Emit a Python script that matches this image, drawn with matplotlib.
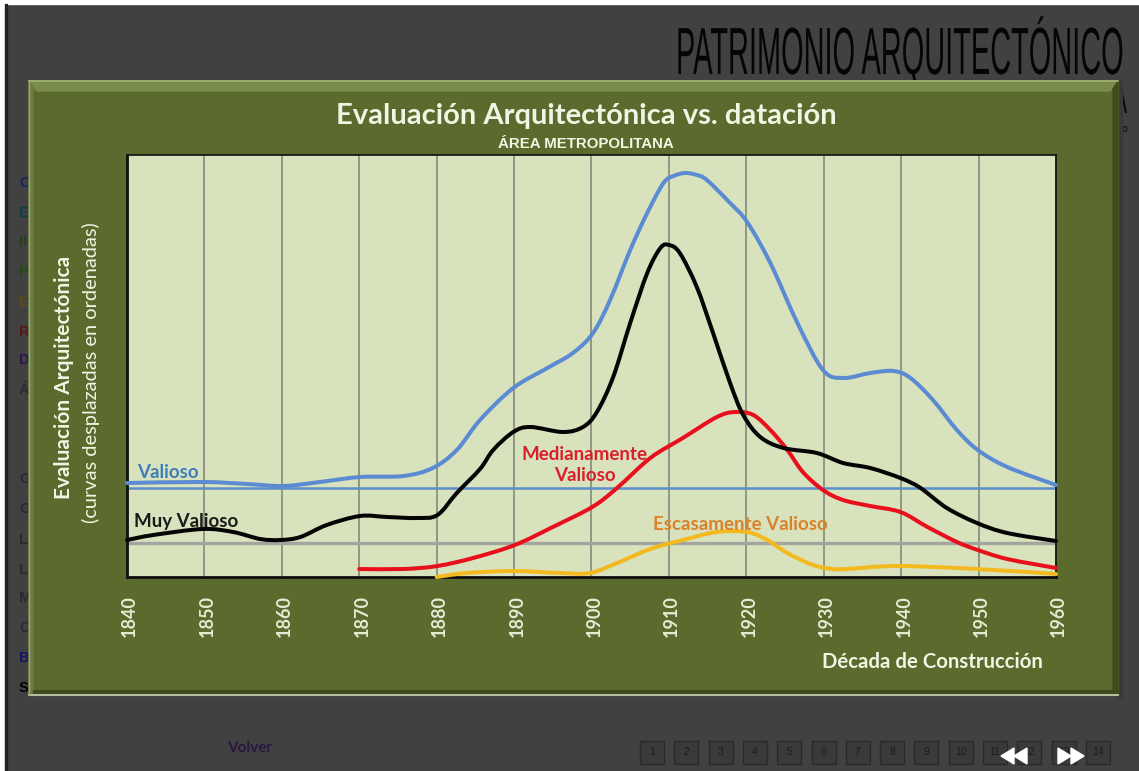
from __future__ import annotations

import matplotlib

matplotlib.use("Agg")
import matplotlib.pyplot as plt
from matplotlib.patches import PathPatch, Polygon, Rectangle
from matplotlib.path import Path
from matplotlib.patheffects import AbstractPathEffect
from matplotlib.transforms import Affine2D, ScaledTranslation


WIDTH = 1139
HEIGHT = 771

DECADES = [1840, 1850, 1860, 1870, 1880, 1890, 1900, 1910, 1920, 1930, 1940, 1950, 1960]

VALIOSO_X = [1840, 1849.8, 1855.5, 1860.2, 1864.9, 1870.1, 1875.7, 1879.5, 1882.6, 1885.6, 1889.9, 1894.3,
             1897.6, 1900.2, 1902.4, 1905, 1907.2, 1909.3, 1910.6, 1912.1, 1913.6, 1914.9, 1917.9, 1920.1,
             1923.1, 1926.6, 1929.9, 1932.5, 1936, 1939, 1941.2, 1944.1, 1947.2, 1949.9, 1953.7, 1960]
VALIOSO_Y = [94, 95, 93, 91, 95, 100, 101, 109, 127, 157, 189, 209,
             224, 244, 277, 327, 364, 394, 401, 404, 402, 397, 374, 355,
             314, 254, 207, 199, 204, 206, 199, 177, 147, 127, 110, 92]

MUY_VALIOSO_X = [1840, 1843.4, 1849.8, 1853.7, 1857.2, 1859.8, 1862.4, 1865.8, 1870.1, 1873.6,
                 1877.5, 1880.1, 1882.6, 1885.6, 1887.3, 1889.9, 1892.1, 1896.3, 1898.9, 1900.7,
                 1902.8, 1905, 1907.2, 1908.9, 1910, 1911.4, 1913.6, 1915.7, 1917.9, 1919.6,
                 1921.8, 1924.8, 1929.1, 1932.5, 1936, 1939.9, 1942.5, 1945.9, 1949.8, 1953.7, 1960]
MUY_VALIOSO_Y = [37, 42, 48, 45, 38, 37, 40, 52, 61, 60,
                 59, 62, 84, 108, 127, 145, 150, 145, 150, 165,
                 200, 254, 304, 329, 332, 324, 290, 244, 194, 162,
                 140, 129, 124, 114, 109, 99, 89, 69, 54, 44, 36]

MEDIANAMENTE_X = [1870, 1875.7, 1880.1, 1884.7, 1890.1, 1895, 1900.1, 1903.3, 1907.6, 1911.8, 1916.2,
                  1918.6, 1920.9, 1923.1, 1925.3, 1927.3, 1929.9, 1932.5, 1936, 1939.9, 1943.4,
                  1947.2, 1949.9, 1953.7, 1960]
MEDIANAMENTE_Y = [8, 8, 11, 19, 32, 50, 70, 89, 119, 139, 160,
                  165, 162, 147, 127, 105, 87, 77, 71, 65, 50,
                  35, 27, 18, 9]

ESCASAMENTE_X = [1880, 1883.9, 1889.9, 1895.9, 1899.8, 1903.3, 1907.6, 1911.8, 1916.2, 1920.1,
                 1922.7, 1925.3, 1928.6, 1931.2, 1933, 1939.5, 1949.8, 1960]
ESCASAMENTE_Y = [0, 4, 6, 4, 4, 14, 28, 37, 45, 45, 37, 24, 12, 8, 8, 11, 8, 3]

VALIOSO_BASE = 89
MUY_VALIOSO_BASE = 34

SIDE_LETTERS = ["C", "E", "II", "P", "E", "R", "D", "Á", "G", "G", "L", "L", "M", "C", "B", "S"]
SIDE_Y = [183, 213, 242, 272, 302, 332, 360, 390, 479, 509, 540, 570, 598, 628, 658, 688]
SIDE_COLORS = ["#14285c", "#123f4a", "#26401c", "#254a12", "#5c4a1c", "#5c1414", "#2c1450", "#2b2b2b",
               "#2b2b2b", "#2b2b2b", "#2b2b2b", "#2b2b2b", "#2b2b2b", "#2b2b2b", "#14146a", "#000000"]
PAGE_BUTTONS = [str(i) for i in range(1, 15)]

FONT = "Lato"
WHITE = "#f2f5e4"


class Stretch(AbstractPathEffect):
    # no condensed face is installed, so the heading glyphs get squeezed when drawn
    def __init__(self, sx: float, sy: float, x0: float, y0: float) -> None:
        super().__init__()
        self._transform = Affine2D().translate(-x0, -y0).scale(sx, sy).translate(x0, y0)

    def draw_path(self, renderer, gc, tpath, affine, rgbFace=None):
        renderer.draw_path(gc, tpath, affine + self._transform, rgbFace)


def main() -> None:
    fig = plt.figure(figsize=(WIDTH / 100, HEIGHT / 100), dpi=100, facecolor="#414141")
    bg = fig.add_axes([0, 0, 1, 1], zorder=0)
    bg.set_xlim(0, WIDTH)
    bg.set_ylim(HEIGHT, 0)
    bg.axis("off")

    _draw_page(fig, bg)
    _draw_panel(bg)
    _draw_chart(fig)

    fig.savefig("out.png", dpi=100, facecolor=fig.get_facecolor())
    plt.close(fig)


def _heading(fig, bg, x: float, y: float, text: str, width: float, sy: float) -> None:
    item = bg.text(x, y, text, ha="right", va="baseline", color="#050505", family="Liberation Sans",
                   fontsize=30, zorder=2)
    measured = item.get_window_extent(fig.canvas.get_renderer()).width
    item.set_path_effects([Stretch(width / measured, sy, x, HEIGHT - y)])


def _draw_page(fig, bg) -> None:
    bg.add_patch(Rectangle((0, 0), WIDTH, 4, color="white", zorder=1))
    bg.add_patch(Rectangle((0, 0), 5, HEIGHT, color="white", zorder=1))
    bg.add_patch(Rectangle((5, 4), 1.5, HEIGHT, color="#222222", zorder=1))

    _heading(fig, bg, 1123, 74, "PATRIMONIO ARQUITECTÓNICO", 447, 1.6)
    _heading(fig, bg, 1127, 113, "A", 14, 1.0)
    bg.text(1124, 129, "o", ha="center", va="center", color="#0a0a0a", fontsize=7, zorder=2)

    for letter, y, color in zip(SIDE_LETTERS, SIDE_Y, SIDE_COLORS):
        bg.text(19, y, letter, ha="left", va="center", color=color, family="Liberation Sans",
                fontweight="bold", fontsize=10.5, zorder=2)

    bg.text(250, 748, "Volver", ha="center", va="center", color="#2a1640", family=FONT,
            fontweight="bold", fontsize=11, zorder=2)

    for i, label in enumerate(PAGE_BUTTONS):
        x = 652 + 34.3 * i
        bg.add_patch(Rectangle((x - 12, 741), 24, 23, facecolor="#3a3a3a", edgecolor="#2a2a2a",
                               linewidth=1, zorder=2))
        bg.text(x, 752, label, ha="center", va="center", color="#1c1c1c", family="Liberation Sans",
                fontsize=7.5, zorder=3)

    for points in (
        [(1001, 756), (1014, 748), (1014, 764)],
        [(1014, 756), (1027, 748), (1027, 764)],
        [(1058, 748), (1071, 756), (1058, 764)],
        [(1071, 748), (1084, 756), (1071, 764)],
    ):
        bg.add_patch(Polygon(points, closed=True, color="white", zorder=4))


def _draw_panel(bg) -> None:
    left, top, right, bottom = 29, 81, 1118, 695
    bg.add_patch(Rectangle((right, top), 4, bottom - top + 2, color="#383838", zorder=4))
    bg.add_patch(Rectangle((left, top), right - left, bottom - top, color="#5a6b2d", zorder=5))
    bg.add_patch(Polygon([(left, top), (right, top), (right - 8, top + 10), (left + 8, top + 10)],
                         closed=True, color="#7a8c4c", zorder=6))
    bg.add_patch(Polygon([(left, top), (left + 4, top + 6), (left + 4, bottom - 4), (left, bottom)],
                         closed=True, color="#6d7d42", zorder=6))
    bg.add_patch(Polygon([(right, top), (right - 5, top + 8), (right - 5, bottom - 5), (right, bottom)],
                         closed=True, color="#3f4d1e", zorder=6))
    bg.add_patch(Rectangle((left + 4, bottom - 5), right - left - 4, 4, color="#3f4d1e", zorder=6))
    bg.plot([left, right], [top, top], color="#a3b178", linewidth=1.2, zorder=7)
    bg.plot([left, right], [bottom - 0.5, bottom - 0.5], color="#b9c2a2", linewidth=1.4, zorder=7)
    bg.plot([left, left], [top, bottom], color="#9aa882", linewidth=1, zorder=7)

    bg.text(586, 116, "Evaluación Arquitectónica vs. datación", ha="center", va="center", color=WHITE,
            family=FONT, fontweight="bold", fontsize=21, zorder=8)
    bg.text(586, 144, "ÁREA METROPOLITANA", ha="center", va="center", color=WHITE,
            family="Liberation Sans", fontweight="bold", fontsize=10.8, zorder=8)
    bg.text(64, 377, "Evaluación Arquitectónica", rotation=90, ha="center", va="center", color=WHITE,
            family=FONT, fontweight="bold", fontsize=15, zorder=8)
    bg.text(91, 373, "(curvas desplazadas en ordenadas)", rotation=90, ha="center", va="center", color=WHITE,
            family=FONT, fontsize=14.4, zorder=8)
    bg.text(932, 662, "Década de Construcción", ha="center", va="center", color=WHITE,
            family=FONT, fontweight="bold", fontsize=14.7, zorder=8)


def _smooth_path(xs: list[float], ys: list[float]) -> Path:
    # same idea as a "smoothed line" in a spreadsheet: curve segments through the read points
    vertices = [(xs[0], ys[0])]
    codes = [Path.MOVETO]
    last = len(xs) - 1
    for i in range(last):
        before, after = max(i - 1, 0), min(i + 2, last)
        vertices.append((xs[i] + (xs[i + 1] - xs[before]) / 6, ys[i] + (ys[i + 1] - ys[before]) / 6))
        vertices.append((xs[i + 1] - (xs[after] - xs[i]) / 6, ys[i + 1] - (ys[after] - ys[i]) / 6))
        vertices.append((xs[i + 1], ys[i + 1]))
        codes.extend([Path.CURVE4, Path.CURVE4, Path.CURVE4])
    return Path(vertices, codes)


def _add_curve(ax, xs: list[float], ys: list[float], color: str, zorder: int) -> None:
    ax.add_patch(PathPatch(_smooth_path(xs, ys), fill=False, edgecolor=color, linewidth=2.9,
                           capstyle="round", joinstyle="round", clip_on=False, zorder=zorder))


def _draw_chart(fig) -> None:
    left, top, right, bottom = 127, 155, 1056, 577
    ax = fig.add_axes(
        [left / WIDTH, 1 - bottom / HEIGHT, (right - left) / WIDTH, (bottom - top) / HEIGHT],
        zorder=2,
        facecolor="#d8e3bd",
    )
    ax.set_xlim(1840, 1960)
    ax.set_ylim(0, bottom - top)
    ax.set_yticks([])
    ax.set_xticks(DECADES)
    ax.set_xticklabels([str(d) for d in DECADES], rotation=90, color="#e6ebd4", family=FONT,
                       fontweight="bold", fontsize=13)
    ax.tick_params(axis="x", length=0, pad=13)
    nudge = ScaledTranslation(2 / 72, 0, fig.dpi_scale_trans)
    for label in ax.get_xticklabels():
        label.set_transform(label.get_transform() + nudge)
    ax.grid(axis="x", color="#8b907f", linewidth=1.3)
    ax.set_axisbelow(True)

    ax.spines["left"].set_linewidth(2)
    ax.spines["bottom"].set_linewidth(2)
    ax.spines["top"].set_linewidth(1.2)
    ax.spines["right"].set_linewidth(1.2)
    for spine in ax.spines.values():
        spine.set_color("#101010")

    ax.axhline(VALIOSO_BASE, color="#5b8fc9", linewidth=1.8, zorder=2)
    ax.axhline(MUY_VALIOSO_BASE, color="#a3a3a0", linewidth=2.4, zorder=2)

    _add_curve(ax, ESCASAMENTE_X, ESCASAMENTE_Y, "#f4b91f", 3)
    _add_curve(ax, MEDIANAMENTE_X, MEDIANAMENTE_Y, "#e8101c", 4)
    _add_curve(ax, VALIOSO_X, VALIOSO_Y, "#5b8bd2", 5)
    _add_curve(ax, MUY_VALIOSO_X, MUY_VALIOSO_Y, "#050505", 6)

    text_style = {"family": FONT, "fontweight": "bold", "fontsize": 13.5, "ha": "center", "va": "center", "zorder": 7}
    ax.text(1845.3, 104, "Valioso", color="#3f7fb8", **text_style)
    ax.text(1847.7, 55, "Muy Valioso", color="#1a1a1a", **text_style)
    ax.text(1899.1, 112, "Medianamente\nValioso", color="#d8202c", linespacing=1.3, **text_style)
    ax.text(1919.2, 52, "Escasamente Valioso", color="#d9822b", **text_style)


if __name__ == "__main__":
    main()
